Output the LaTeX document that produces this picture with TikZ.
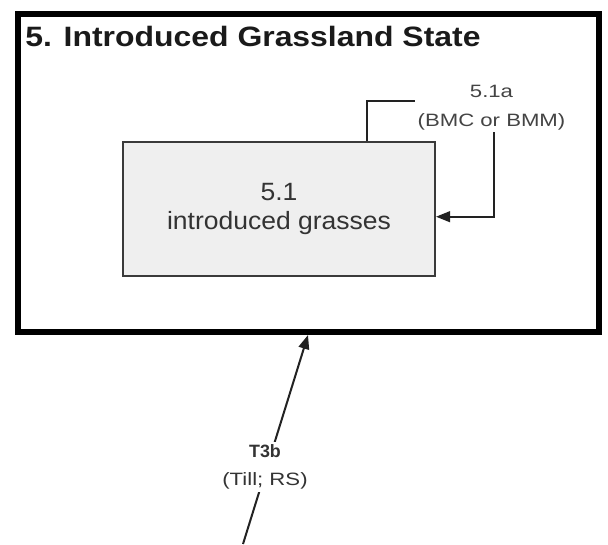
\documentclass[tikz,border=0pt]{standalone}
\usepackage{fontspec}
\setmainfont{Liberation Sans}
\newfontfamily\titlefont{Liberation Sans}[FakeStretch=1.14]
\newfontfamily\boxfont{Liberation Sans}[FakeStretch=1.06]
\newfontfamily\lblfont{Liberation Sans}[FakeStretch=1.24]
\newfontfamily\plainfont{Liberation Sans}
\usetikzlibrary{arrows.meta}
\definecolor{titlecol}{HTML}{1A1A1A}
\definecolor{boxfill}{HTML}{EFEFEF}
\definecolor{boxline}{HTML}{3A3A3A}
\definecolor{txtcol}{HTML}{333333}
\definecolor{lblcol}{HTML}{444444}
\definecolor{linecol}{HTML}{222222}
\tikzset{
  outerbox/.style={draw=black, line width=4.5pt, minimum width=435.4pt, minimum height=238.5pt, inner sep=0pt},
  innerbox/.style={draw=boxline, fill=boxfill, line width=1.5pt, minimum width=234pt, minimum height=100.5pt, inner sep=0pt, align=center, text=txtcol, font=\boxfont\fontsize{18.75}{21.2}\selectfont},
  titletext/.style={text=titlecol, inner sep=0pt, font=\titlefont\bfseries\fontsize{21}{25}\selectfont},
  lbl/.style={text=lblcol, align=center, inner sep=1.5pt, font=\lblfont\fontsize{13.4}{21.75}\selectfont},
  tlbl/.style={text=txtcol, align=center, fill=white, inner sep=2pt, font=\lblfont\fontsize{13.4}{21.2}\selectfont},
  conn/.style={draw=linecol, line width=1.5pt},
  arr/.style={conn, -{Triangle[length=10.5pt,width=8pt]}}
}
\begin{document}
\begin{tikzpicture}[x=0.75pt,y=-0.75pt]
\fill[white] (0,0) rectangle (608,544);
\useasboundingbox (0,0) rectangle (608,544);
\node[outerbox] (outer) at (308.75,173) {};
\node[titletext, anchor=base west] (title) at (25,46.7) {5. Introduced Grassland State};
\node[innerbox] (inner) at (279,209) {5.1\\introduced grasses};
\node[lbl] (lab51a) at (491.5,107.5) {5.1a\\(BMC or BMM)};
\coordinate (fbA) at (367,100.7);
\coordinate (fbC) at (494.3,216.7);
\draw[conn] (inner.north -| fbA) -- (fbA) -- (fbA -| lab51a.west);
\draw[arr] (lab51a.south -| fbC) -- (fbC) -- (fbC -| inner.east);
\coordinate (tstart) at (243,544);
\coordinate (tx) at (308,0);
\draw[arr] (tstart) -- (outer.south -| tx);
\node[tlbl] (t3b) at (265,467) {{\plainfont\bfseries T3b}\\(Till; RS)};
\end{tikzpicture}
\end{document}
